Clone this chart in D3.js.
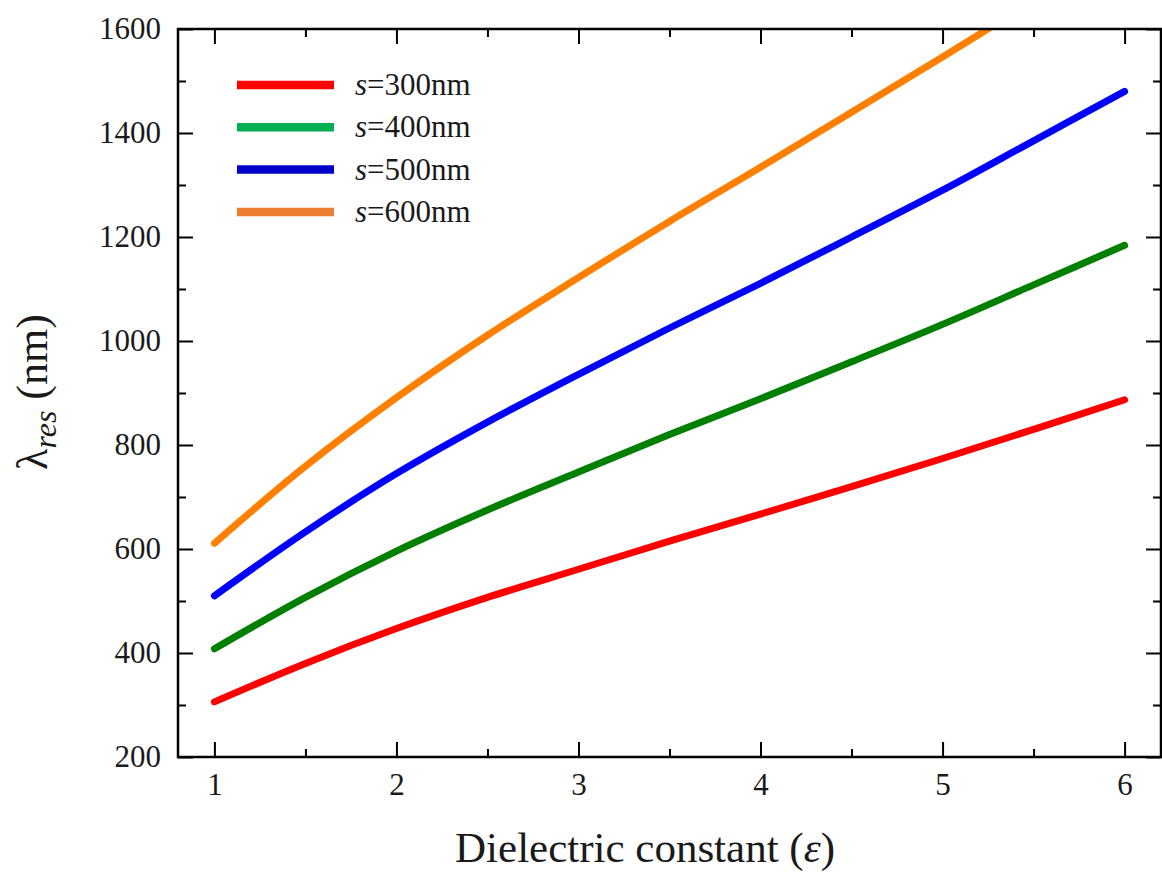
<!DOCTYPE html>
<html>
<head>
<meta charset="utf-8">
<script src="https://cdn.jsdelivr.net/npm/d3@7"></script>
<style>
  body { margin: 0; background: #fff; }
  svg { display: block; font-family: "Liberation Serif", "Times New Roman", serif; }
</style>
</head>
<body>
<div id="chart"></div>
<script>
// dielectric constant values (x)
const epsValues = [1, 1.5, 2, 2.5, 3, 3.5, 4, 4.5, 5, 5.5, 6];

// resonance wavelength (nm)
const s300 = [306, 380, 447, 507, 561, 615, 667, 720, 774, 830, 887];
const s400 = [408, 507, 596, 675, 748, 820, 889, 960, 1032, 1108, 1184];
const s500 = [510, 633, 745, 844, 936, 1025, 1111, 1200, 1290, 1385, 1480];
const s600 = [611, 759, 891, 1011, 1122, 1230, 1334, 1440, 1546, 1655];

const seriesNames = ["300nm", "400nm", "500nm", "600nm"];
const lineColors = ["#ff0000", "#007f00", "#0000ff", "#ff8000"];
const legendColors = ["#ff0000", "#00b050", "#0000cc", "#ed7d31"];

const xTicks = [1, 2, 3, 4, 5, 6];
const xMinor = [1.5, 2.5, 3.5, 4.5, 5.5];
const yTicks = [200, 400, 600, 800, 1000, 1200, 1400, 1600];
const yMinor = [300, 500, 700, 900, 1100, 1300, 1500];

const W = 1162, H = 875;
const margin = { top: 29, right: 1, bottom: 118, left: 178 };
const width = W - margin.left - margin.right;
const height = H - margin.top - margin.bottom;

const svg = d3.select("#chart").append("svg")
    .attr("width", W)
    .attr("height", H);

const g = svg.append("g")
    .attr("transform", `translate(${margin.left},${margin.top})`);

const x = d3.scaleLinear().domain([0.8, 6.2]).range([0, width]);
const y = d3.scaleLinear().domain([200, 1600]).range([height, 0]);

// clip so the orange curve stops at the top of the frame
g.append("clipPath").attr("id", "plotClip")
  .append("rect")
    .attr("width", width)
    .attr("height", height);

const allSeries = [s300, s400, s500, s600];

const line = d3.line()
    .x(d => x(d.e))
    .y(d => y(d.v))
    .curve(d3.curveCatmullRom.alpha(0.5));

g.append("g").attr("clip-path", "url(#plotClip)")
  .selectAll("path")
  .data(allSeries)
  .join("path")
    .attr("fill", "none")
    .attr("stroke", (d, i) => lineColors[i])
    .attr("stroke-width", 7)
    .attr("stroke-linecap", "round")
    .attr("d", d => line(d.map((v, i) => ({ e: epsValues[i], v: v }))));

// axes, ticks pointing inward on all four sides
function styleAxis(sel) {
    sel.select(".domain").remove();
    sel.selectAll(".tick line").attr("stroke", "#000").attr("stroke-width", 2);
    sel.selectAll(".tick text")
        .attr("fill", "#1a1a1a")
        .style("font-size", "31px")
        .style("font-family", "'Liberation Serif', 'Times New Roman', serif");
}

g.append("g")
    .attr("transform", `translate(0,${height})`)
    .call(d3.axisBottom(x).tickValues(xTicks).tickSize(-15).tickPadding(16).tickFormat(d3.format("d")))
    .call(styleAxis);
g.append("g")
    .attr("transform", `translate(0,${height})`)
    .call(d3.axisBottom(x).tickValues(xMinor).tickSize(-8).tickFormat(""))
    .call(styleAxis);
g.append("g")
    .call(d3.axisTop(x).tickValues(xTicks).tickSize(-15).tickFormat(""))
    .call(styleAxis);
g.append("g")
    .call(d3.axisTop(x).tickValues(xMinor).tickSize(-8).tickFormat(""))
    .call(styleAxis);

g.append("g")
    .call(d3.axisLeft(y).tickValues(yTicks).tickSize(-15).tickPadding(17).tickFormat(d3.format("d")))
    .call(styleAxis);
g.append("g")
    .call(d3.axisLeft(y).tickValues(yMinor).tickSize(-8).tickFormat(""))
    .call(styleAxis);
g.append("g")
    .attr("transform", `translate(${width},0)`)
    .call(d3.axisRight(y).tickValues(yTicks).tickSize(-15).tickFormat(""))
    .call(styleAxis);
g.append("g")
    .attr("transform", `translate(${width},0)`)
    .call(d3.axisRight(y).tickValues(yMinor).tickSize(-8).tickFormat(""))
    .call(styleAxis);

// frame
g.append("rect")
    .attr("width", width)
    .attr("height", height)
    .attr("fill", "none")
    .attr("stroke", "#000")
    .attr("stroke-width", 2.5);

// legend
const legend = g.append("g").attr("transform", "translate(59,56)");
const items = legend.selectAll("g")
  .data(seriesNames)
  .join("g")
    .attr("transform", (d, i) => `translate(0,${i * 42.3})`);

items.append("line")
    .attr("x1", 0).attr("x2", 97)
    .attr("stroke", (d, i) => legendColors[i])
    .attr("stroke-width", 8.5);

const lt = items.append("text")
    .attr("x", 118)
    .attr("y", 10)
    .attr("fill", "#1a1a1a")
    .style("font-size", "31px");
lt.append("tspan").style("font-style", "italic").text("s");
lt.append("tspan").text(d => "=" + d);

// x axis title
const xt = svg.append("text")
    .attr("x", 645)
    .attr("y", 862)
    .attr("text-anchor", "middle")
    .attr("fill", "#1a1a1a")
    .style("font-size", "43px");
xt.append("tspan").text("Dielectric constant (");
xt.append("tspan").style("font-style", "italic").text("ε");
xt.append("tspan").text(")");

// y axis title
const yt = svg.append("text")
    .attr("transform", "translate(47,392) rotate(-90)")
    .attr("text-anchor", "middle")
    .attr("fill", "#1a1a1a")
    .style("font-size", "44px");
yt.append("tspan").text("λ");
yt.append("tspan").attr("dy", 9).style("font-style", "italic").style("font-size", "32px").text("res");
yt.append("tspan").attr("dy", -9).text(" (nm)");
</script>
</body>
</html>
